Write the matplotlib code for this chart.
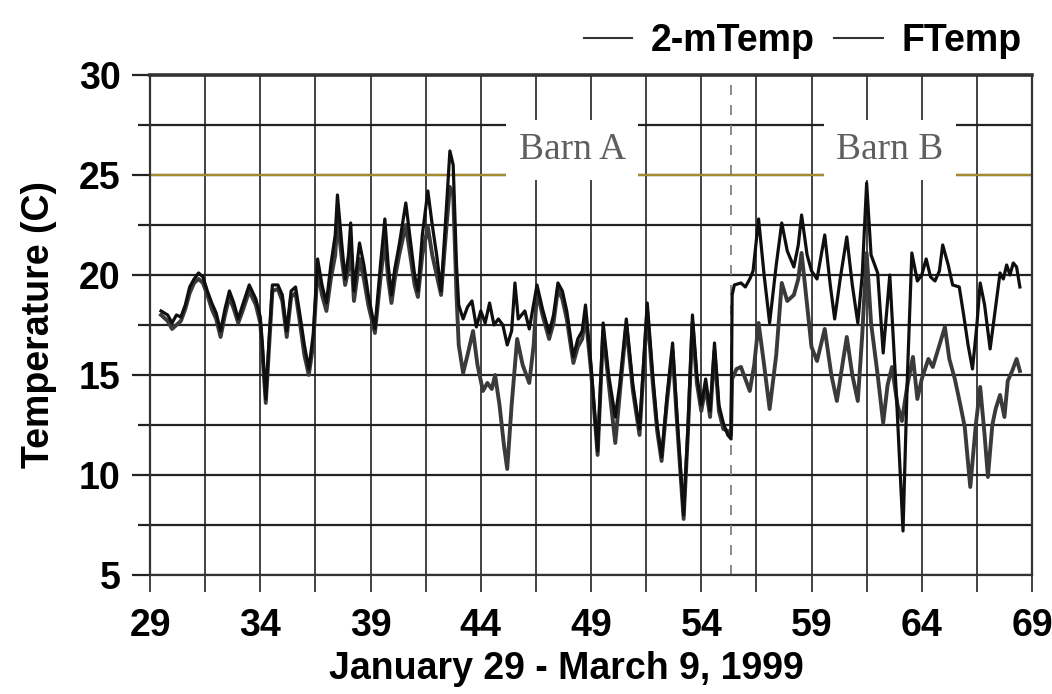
import numpy as np
import matplotlib
matplotlib.use("Agg")
import matplotlib.pyplot as plt
from matplotlib.ticker import MultipleLocator

# 2-m air temperature (lower line in Barn B)
air_days = [29.5, 29.8, 30.0, 30.2, 30.4, 30.6, 30.8, 31.0, 31.2, 31.4, 31.6, 31.8, 32.0, 32.2, 32.4,
            32.6, 32.8, 33.0, 33.2, 33.5, 33.8, 34.0, 34.1, 34.25, 34.4, 34.55, 34.8, 35.0, 35.2, 35.4,
            35.6, 35.8, 36.0, 36.2, 36.4, 36.6, 36.8, 37.0, 37.2, 37.4, 37.5, 37.7, 37.85, 38.0, 38.1,
            38.25, 38.5, 38.7, 38.9, 39.2, 39.45, 39.65, 39.8, 39.95, 40.1, 40.3, 40.6, 40.8, 41.0, 41.15,
            41.35, 41.6, 41.8, 42.0, 42.2, 42.45, 42.6, 42.75, 42.9, 43.0, 43.2, 43.4, 43.65, 43.85, 44.1,
            44.3, 44.5, 44.65, 44.85, 45.05, 45.2, 45.4, 45.65, 45.9, 46.2, 46.4, 46.55, 46.8, 47.1, 47.3,
            47.5, 47.7, 47.9, 48.2, 48.4, 48.6, 48.75, 49.0, 49.3, 49.55, 49.8, 50.1, 50.3, 50.6, 50.9,
            51.2, 51.55, 51.8, 52.0, 52.2, 52.45, 52.7, 52.9, 53.2, 53.4, 53.6, 53.8, 54.0, 54.2, 54.4,
            54.6, 54.8, 55.0, 55.2, 55.35,
            55.4, 55.6, 55.8, 56.0, 56.2, 56.4, 56.6, 56.85, 57.1, 57.4, 57.65, 57.9, 58.2, 58.4, 58.55,
            58.8, 59.0, 59.25, 59.6, 59.9, 60.15, 60.4, 60.6, 60.85, 61.1, 61.3, 61.5, 61.7, 62.0, 62.25,
            62.45, 62.65, 62.9, 63.1, 63.35, 63.6, 63.8, 64.0, 64.3, 64.5, 64.8, 65.05, 65.25, 65.5, 65.75,
            65.95, 66.2, 66.45, 66.65, 66.85, 67.0, 67.2, 67.35, 67.55, 67.75, 67.9, 68.1, 68.3, 68.45]
air_temp = [18.0, 17.7, 17.3, 17.5, 17.7, 18.3, 19.1, 19.6, 19.8, 19.6, 19.0, 18.3, 17.8, 16.9, 18.0,
            18.9, 18.3, 17.6, 18.2, 19.2, 18.5, 17.6, 16.0, 13.6, 16.4, 19.2, 19.3, 18.7, 16.9, 18.9,
            19.1, 17.6, 16.0, 15.0, 16.5, 20.3, 19.0, 18.2, 19.8, 21.0, 22.8, 20.8, 19.5, 20.3, 21.5,
            18.7, 20.8, 19.8, 18.5, 17.1, 19.8, 21.8, 19.8, 18.6, 19.8, 21.0, 22.5, 21.0, 19.5, 18.9,
            21.0, 22.4, 21.0, 20.0, 19.0, 22.5, 24.4, 24.0, 19.0, 16.5, 15.1, 16.0, 17.2, 15.5, 14.2,
            14.6, 14.3, 15.0, 13.5, 11.5, 10.3, 13.5, 16.8, 15.5, 14.6, 16.5, 19.2, 18.0, 16.8, 17.6,
            19.3, 18.8, 17.8, 15.6, 16.4, 16.8, 18.0, 15.2, 11.0, 17.2, 14.6, 11.6, 14.0, 17.5, 14.2,
            12.0, 18.2, 14.6, 12.2, 10.7, 13.7, 16.2, 12.6, 7.8, 12.2, 17.6, 14.6, 13.2, 14.4, 12.9,
            16.2, 13.2, 12.3, 12.2, 12.0,
            14.8, 15.3, 15.4, 14.8, 14.2, 15.5, 17.6, 15.5, 13.3, 16.0, 19.6, 18.7, 19.0, 19.8, 21.1,
            18.5, 16.4, 15.7, 17.3, 15.0, 13.7, 15.5, 16.9, 15.0, 13.7, 17.0, 21.1, 17.6, 15.0, 12.6,
            14.5, 15.4, 13.5, 12.7, 14.5, 15.9, 13.8, 14.8, 15.8, 15.4, 16.5, 17.4, 15.8, 14.8, 13.5,
            12.4, 9.4, 12.5, 14.4, 12.0, 9.9, 12.5, 13.3, 14.0, 12.9, 14.7, 15.2, 15.8, 15.2]

# floor temperature (upper line in Barn B)
floor_days = [29.5, 29.8, 30.0, 30.2, 30.4, 30.6, 30.8, 31.0, 31.2, 31.4, 31.6, 31.8, 32.0, 32.2, 32.4,
              32.6, 32.8, 33.0, 33.2, 33.5, 33.8, 34.0, 34.1, 34.25, 34.4, 34.55, 34.8, 35.0, 35.2, 35.4,
              35.6, 35.8, 36.0, 36.2, 36.4, 36.6, 36.8, 37.0, 37.2, 37.4, 37.5, 37.7, 37.85, 38.0, 38.1,
              38.25, 38.5, 38.7, 38.9, 39.2, 39.45, 39.65, 39.8, 39.95, 40.1, 40.3, 40.6, 40.8, 41.0, 41.15,
              41.35, 41.6, 41.8, 42.0, 42.2, 42.45, 42.6, 42.75, 42.9, 43.0, 43.2, 43.4, 43.6, 43.8, 44.0,
              44.2, 44.4, 44.6, 44.8, 45.0, 45.2, 45.4, 45.55, 45.7, 46.0, 46.2, 46.55, 46.8, 47.1, 47.3,
              47.5, 47.7, 47.9, 48.2, 48.4, 48.6, 48.75, 49.0, 49.3, 49.55, 49.8, 50.1, 50.3, 50.6, 50.9,
              51.2, 51.55, 51.8, 52.0, 52.2, 52.45, 52.7, 52.9, 53.2, 53.4, 53.6, 53.8, 54.0, 54.2, 54.4,
              54.6, 54.8, 55.0, 55.2, 55.35,
              55.4, 55.5, 55.8, 56.0, 56.2, 56.35, 56.6, 56.85, 57.1, 57.4, 57.65, 57.9, 58.2, 58.4, 58.55,
              58.8, 59.0, 59.25, 59.6, 59.85, 60.05, 60.3, 60.6, 60.85, 61.1, 61.3, 61.5, 61.7, 62.0, 62.25,
              62.55, 62.85, 63.15, 63.35, 63.55, 63.8, 64.0, 64.2, 64.4, 64.6, 64.8, 64.95, 65.2, 65.4, 65.7,
              65.9, 66.1, 66.3, 66.5, 66.65, 66.85, 67.1, 67.3, 67.55, 67.7, 67.85, 68.0, 68.15, 68.3, 68.45]
floor_temp = [18.2, 18.0, 17.6, 18.0, 17.9, 18.5, 19.4, 19.8, 20.1, 19.9, 19.2, 18.6, 18.1, 17.2, 18.3,
              19.2, 18.6, 17.8, 18.5, 19.5, 18.8, 17.9, 16.5, 13.8, 16.8, 19.5, 19.5, 19.0, 17.2, 19.2,
              19.4, 18.0, 16.5, 15.3, 17.0, 20.8, 19.5, 18.6, 20.5, 22.0, 24.0, 21.5, 19.8, 21.0, 22.6,
              19.2, 21.6, 20.5, 19.0, 17.3, 20.5, 22.8, 20.5, 19.0, 20.3, 21.5, 23.6, 21.8, 20.0, 19.2,
              22.0, 24.2, 22.5, 21.0, 19.2, 23.5, 26.2, 25.5, 20.5, 18.5, 17.8, 18.4, 18.7, 17.4, 18.2,
              17.6, 18.6, 17.5, 17.8, 17.5, 16.5, 17.2, 19.6, 17.8, 18.2, 17.3, 19.5, 18.3, 17.1, 18.0,
              19.6, 19.2, 18.2, 15.9, 16.8, 17.2, 18.5, 15.5, 11.2, 17.6, 15.0, 12.9, 14.5, 17.8, 14.5,
              12.3, 18.6, 15.0, 12.5, 10.9, 14.0, 16.6, 13.0, 8.0, 12.5, 18.0, 15.0, 13.5, 14.8, 13.2,
              16.6, 13.5, 12.6, 12.0, 11.8,
              19.0, 19.5, 19.6, 19.4, 19.8, 20.2, 22.8, 20.0, 17.6, 20.5, 22.6, 21.2, 20.4, 21.5, 23.0,
              21.0, 20.2, 19.8, 22.0, 19.5, 17.8, 19.8, 21.9, 19.5, 17.6, 20.0, 24.6, 21.0, 20.1, 16.1,
              20.0, 14.0, 7.2, 15.0, 21.1, 19.7, 20.0, 20.8, 19.9, 19.7, 20.2, 21.5, 20.5, 19.5, 19.4,
              18.0, 16.5, 15.3, 17.5, 19.6, 18.5, 16.3, 18.0, 20.1, 19.8, 20.5, 20.0, 20.6, 20.4, 19.4]

barn_split = 55.35
barn_labels = ["Barn A", "Barn B"]
barn_label_days = [48.15, 62.55]
set_point = 25

bold = {"family": ["Liberation Sans", "DejaVu Sans"], "weight": "bold"}

fig = plt.figure(figsize=(10.52, 6.94), dpi=100)
ax = fig.add_axes([0.1426, 0.1715, 0.8384, 0.7205])

ax.set_xlim(29, 69)
ax.set_ylim(5, 30)
ax.xaxis.set_major_locator(MultipleLocator(5, offset=4))
ax.xaxis.set_minor_locator(MultipleLocator(2.5, offset=1.5))
ax.yaxis.set_major_locator(MultipleLocator(5))
ax.yaxis.set_minor_locator(MultipleLocator(2.5))
ax.grid(True, which="both", axis="x", color="#222222", lw=1.2, zorder=0)
ax.grid(True, which="both", axis="y", color="#222222", lw=1.6, zorder=0)
ax.set_axisbelow(True)
ax.tick_params(axis="x", which="both", direction="out", length=12, width=1.2, color="#222222", pad=12)
ax.tick_params(axis="y", which="major", direction="out", length=13, width=1.6, color="#222222", pad=8)
ax.tick_params(axis="y", which="minor", length=9, width=1.6, color="#222222")
for s in ax.spines.values():
    s.set_color("#333333")
    s.set_linewidth(1.6)
ax.spines["top"].set_linewidth(2.6)

for lab in ax.get_xticklabels() + ax.get_yticklabels():
    lab.set_fontproperties(bold)
    lab.set_fontsize(27)

ax.axhline(set_point, color="#a38a2a", lw=1.6, zorder=1)
ax.axvline(barn_split, color="#777777", lw=1.2, ls=(0, (6, 6)), zorder=1)

for lab, d in zip(barn_labels, barn_label_days):
    ax.text(d, 26.25, lab, family=["Liberation Serif", "DejaVu Serif"], fontsize=27, color="#5e5e5e",
            ha="center", va="center", zorder=2,
            bbox=dict(facecolor="white", edgecolor="none", pad=9))

ax.plot(air_days, air_temp, color="#3a3a3a", lw=2.8, zorder=3, label="2-mTemp")
ax.plot(floor_days, floor_temp, color="#0f0f0f", lw=2.3, zorder=4, label="FTemp")

ax.set_xlabel("January 29 - March 9, 1999", fontsize=27, **bold)
ax.xaxis.set_label_coords(0.472, -0.152)
ax.set_ylabel("Temperature (C)", fontsize=27, labelpad=16, **bold)

leg = fig.legend(loc="upper right", bbox_to_anchor=(1.003, 1.015), ncol=2, frameon=False,
                 handlelength=1.3, handletextpad=0.5, columnspacing=0.5,
                 prop={"family": bold["family"], "weight": "bold", "size": 27})
for h in leg.legend_handles:
    h.set_linewidth(1.5)
    h.set_color("#333333")

fig.savefig("out.png", dpi=100)
